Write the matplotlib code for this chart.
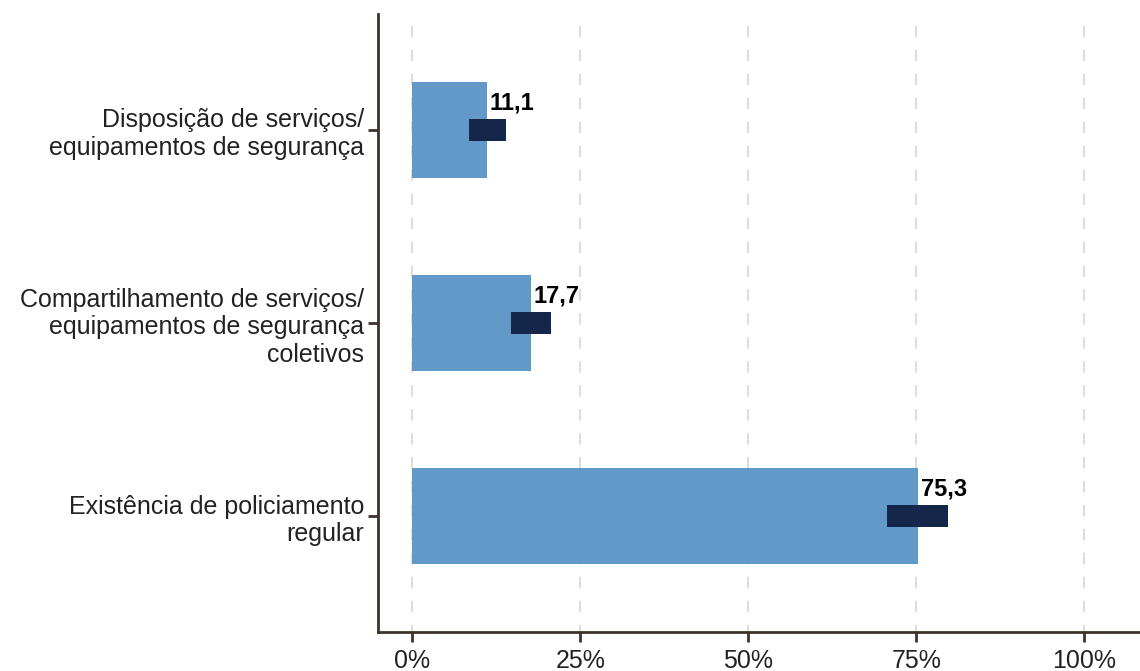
import matplotlib.pyplot as plt
from matplotlib.patches import Rectangle

plt.rcParams['font.family'] = ['Liberation Sans', 'DejaVu Sans']

# data (bottom to top)
categorias = ["Existência de policiamento\nregular",
              "Compartilhamento de serviços/\nequipamentos de segurança\ncoletivos",
              "Disposição de serviços/\nequipamentos de segurança"]
valores = [75.3, 17.7, 11.1]
ic_inf = [70.6, 14.7, 8.5]
ic_sup = [79.7, 20.7, 13.9]
rotulos = ["75,3", "17,7", "11,1"]
xticks = [0, 25, 50, 75, 100]
xlabels = ["0%", "25%", "50%", "75%", "100%"]

fig = plt.figure(figsize=(11.4, 6.71), dpi=100)
ax = fig.add_axes([0.3316, 0.0581, 0.6684, 0.921])

y = list(range(len(categorias)))
for x in xticks:
    ax.axvline(x, color='#dedede', lw=1.5, ls=(2, (5.5, 6)), zorder=0)

ax.barh(y, valores, height=0.5, color='#6399c9', zorder=2)
for i in y:
    ax.add_patch(Rectangle((ic_inf[i], i - 0.057), ic_sup[i] - ic_inf[i], 0.114,
                           facecolor='#14274a', edgecolor='none', zorder=3))
    ax.text(valores[i] + 0.4, i + 0.14, rotulos[i], fontsize=17, fontweight='bold',
            ha='left', va='center', color='black', zorder=4)

ax.set_xlim(-5.1, 108.3)
ax.set_ylim(-0.6, 2.6)
ax.set_xticks(xticks)
ax.set_xticklabels(xlabels, fontsize=18)
ax.set_yticks(y)
ax.set_yticklabels(categorias, fontsize=18)

for s in ['top', 'right']:
    ax.spines[s].set_visible(False)
for s in ['left', 'bottom']:
    ax.spines[s].set_color('#3b342c')
    ax.spines[s].set_linewidth(2)
ax.tick_params(axis='both', colors='#3b342c', length=7, width=2, labelcolor='#222222')
ax.tick_params(axis='y', pad=3)
ax.tick_params(axis='x', pad=5)

fig.savefig('out.png', dpi=100)
